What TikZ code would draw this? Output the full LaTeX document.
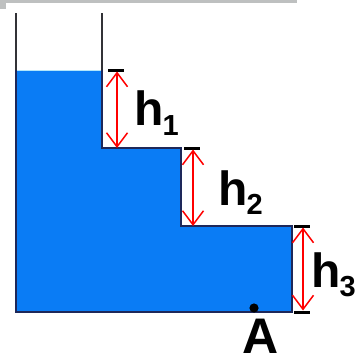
\documentclass[tikz,border=0pt]{standalone}
\usepackage{fontspec}
\setmainfont{Liberation Sans}
\usetikzlibrary{arrows.meta}
\definecolor{water}{RGB}{10,124,245}
\definecolor{edge}{RGB}{30,40,90}
\definecolor{wallc}{RGB}{50,50,55}
\definecolor{barc}{RGB}{190,192,192}
\begin{document}
\begin{tikzpicture}[x=1pt,y=-1pt,
  wall/.style={draw=wallc,line width=1.6pt},
  outline/.style={draw=edge,line width=1.6pt,line join=miter},
  tick/.style={draw=black,line width=3pt},
  harrow/.style={draw=red,line width=1.5pt,{Straight Barb[length=14pt,width=21pt]}-{Straight Barb[length=14pt,width=21pt]}},
  lab/.style={inner sep=0pt,anchor=base west,font=\bfseries\fontsize{48}{48}\selectfont}]
\useasboundingbox (0,0) rectangle (355,356);
% top grey bar
\fill[barc] (0,0) rectangle (297,3);
\fill[barc] (0,0) rectangle (6,9);
% walls above water
\draw[wall] (16,13) -- (16,70);
\draw[wall] (102,13) -- (102,70);
% water
\fill[water] (16,70) -- (16,312) -- (292,312) -- (292,226) -- (181,226) -- (181,148) -- (102,148) -- (102,70) -- cycle;
\draw[draw=cyan!30,line width=1pt] (16,70) -- (102,70);
\draw[outline] (16,70) -- (16,312) -- (292,312) -- (292,226) -- (181,226) -- (181,148) -- (102,148) -- (102,70);
% coordinates
\coordinate (t1) at (117,71.5);
\coordinate (b1) at (117,148);
\coordinate (t2) at (193,149.5);
\coordinate (b2) at (193,226);
\coordinate (t3) at (303,227.5);
\coordinate (b3) at (303,310.5);
% ticks
\draw[tick] (108,70) -- (124,70);
\draw[tick] (184,148) -- (200,148);
\draw[tick] (294,226) -- (310,226);
\draw[tick] (294,312) -- (310,312);
% arrows
\draw[harrow] (t1) -- (b1);
\draw[harrow] (t2) -- (b2);
\draw[harrow] (t3) -- (b3);
% labels
\node[lab] (h1) at (134,125) {h\kern-1pt\raisebox{-10pt}{\fontsize{29}{29}\selectfont 1}};
\node[lab] (h2) at (218,205) {h\kern-1pt\raisebox{-9pt}{\fontsize{29}{29}\selectfont 2}};
\node[lab] (h3) at (311,287) {h\kern-1pt\raisebox{-9pt}{\fontsize{29}{29}\selectfont 3}};
% point A
\fill[black] (254,308) circle (4.6);
\node[lab,anchor=base,font=\bfseries\fontsize{50}{50}\selectfont] (A) at (261,353) {A};
\end{tikzpicture}
\end{document}
